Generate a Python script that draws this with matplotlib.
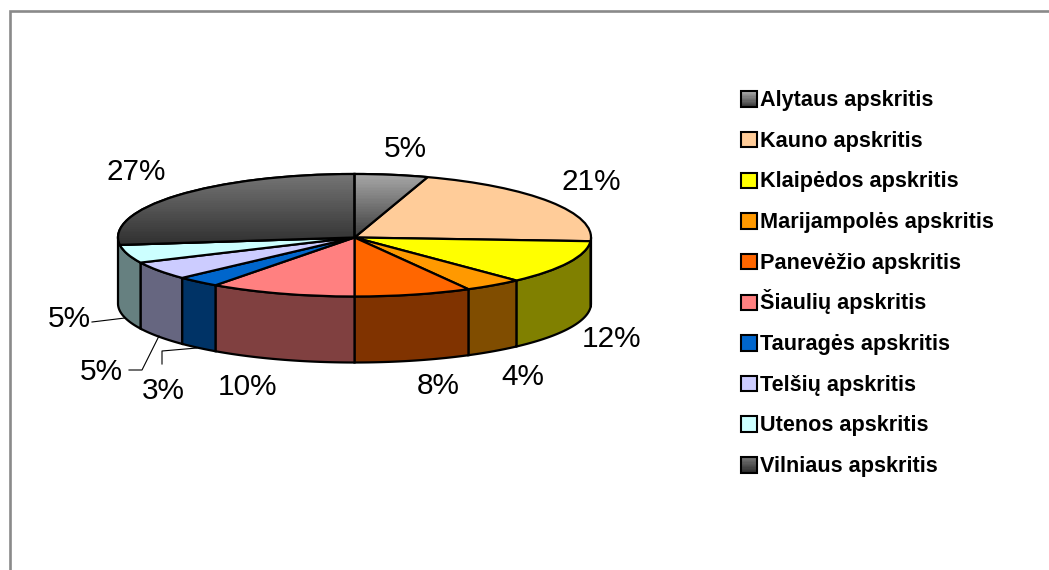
import numpy as np
import matplotlib
matplotlib.use("Agg")
import matplotlib.pyplot as plt
from matplotlib.patches import Rectangle, Wedge
from matplotlib.colors import LinearSegmentedColormap

W, H = 1049, 570

regions = ["Alytaus apskritis", "Kauno apskritis", "Klaipėdos apskritis",
           "Marijampolės apskritis", "Panevėžio apskritis", "Šiaulių apskritis",
           "Tauragės apskritis", "Telšių apskritis", "Utenos apskritis",
           "Vilniaus apskritis"]
shares = [5, 21, 12, 4, 8, 10, 3, 5, 5, 27]
top_colors = ["#808080", "#FFCC99", "#FFFF00", "#FF9900", "#FF6600",
              "#FF8080", "#0066CC", "#CCCCFF", "#CCFFFF", "#505050"]
wall_colors = ["#404040", "#806650", "#808000", "#804D00", "#803300",
               "#804040", "#003366", "#666680", "#668080", "#303030"]
# gradient ends (top, bottom) of the two grey slices
gradients = {0: ("#A6A6A6", "#3E3E3E"), 9: ("#747474", "#2E2E2E")}
label_text = ["5%", "21%", "12%", "4%", "8%", "10%", "3%", "5%", "5%", "27%"]

plt.rcParams["font.family"] = ["Liberation Sans", "DejaVu Sans"]


def px(x, y):
    return x / W, 1 - y / H


fig = plt.figure(figsize=(W / 100, H / 100), dpi=100)

# border, only top and left like the source
fig.add_artist(plt.Line2D([px(9.5, 0)[0], px(9.5, 0)[0], 1], [0, px(0, 11.3)[1], px(0, 11.3)[1]],
                          color="#8A8A8A", lw=1.9, solid_joinstyle="miter"))

# back half of the disc is a bit taller than the front, the y scale handles that
cx, cy = 354.5, 237.5
rx, ry_back, ry_front = 236.5, 63.5, 59.0
depth = 66.0 / ry_front
x_lim = 1.45
y_top, y_bot = 1.3, -2.6
edge_lw = 1.6
ax = fig.add_axes([px(cx - x_lim * rx, 0)[0], px(0, cy - y_bot * ry_front)[1],
                   2 * x_lim * rx / W, (y_top * ry_back - y_bot * ry_front) / H])


def fwd(y):
    y = np.asarray(y, dtype=float)
    return np.where(y > 0, y * ry_back, y * ry_front)


def inv(v):
    v = np.asarray(v, dtype=float)
    return np.where(v > 0, v / ry_back, v / ry_front)


wedges, _ = ax.pie(shares, colors=top_colors, startangle=90, counterclock=False, radius=1,
                   wedgeprops={"edgecolor": "black", "linewidth": edge_lw, "zorder": 5})
ax.set_aspect("auto")
ax.set_yscale("function", functions=(fwd, inv))
ax.set_xlim(-x_lim, x_lim)
ax.set_ylim(y_bot, y_top)
ax.axis("off")

# side walls: the last visible one (Utenos) runs out to the left edge of the disc
edges = np.cumsum([0] + shares) / sum(shares) * 360
for i in range(len(shares) - 1):
    a0 = max(edges[i], 90)
    a1 = edges[i + 1] if i < len(shares) - 2 else 270
    if a1 <= a0:
        continue
    t = np.radians(np.linspace(a0, a1, 60))
    xs = np.sin(t)
    ys = np.cos(t)
    ax.fill(np.r_[xs, xs[::-1]], np.r_[ys, ys[::-1] - depth], fc=wall_colors[i],
            ec="black", lw=edge_lw, zorder=4)

# gradient on the grey slices
for i, (c0, c1) in gradients.items():
    cmap = LinearSegmentedColormap.from_list("g", [c1, c0])
    yy = np.linspace(-0.15 if i == 9 else 0, 1, 41)
    zz = np.linspace(0, 1, 40)[None, :].T
    mesh = ax.pcolormesh([-1.1, 1.1], yy, zz, cmap=cmap, zorder=5.5, shading="flat")
    mesh.set_clip_path(wedges[i])
    ax.add_patch(Wedge(wedges[i].center, wedges[i].r, wedges[i].theta1, wedges[i].theta2,
                       fc="none", ec="black", lw=edge_lw, zorder=6))

# percentage labels
label_pos = [(405, 149), (591, 182), (611, 339), (523, 377), (438, 386),
             (247, 387), (163, 391), (101, 372), (69, 319), (136, 172)]
for s, (x, y) in zip(label_text, label_pos):
    fig.text(*px(x, y), s, fontsize=21.4, ha="center", va="center", color="black")

# leader lines of the three small slices
leaders = [[(92, 322), (125, 318)],
           [(129, 370), (142, 370), (159, 336)],
           [(162, 364), (162, 351), (197, 348)]]
for line in leaders:
    pts = [px(*p) for p in line]
    fig.add_artist(plt.Line2D([p[0] for p in pts], [p[1] for p in pts], color="black", lw=0.8))

# legend, drawn by hand so the row pitch stays even with the Š row
sw = 15.5
for i, name in enumerate(regions):
    yc = 99 + i * 40.65
    x0, y0 = px(741, yc + sw / 2)
    w, h = sw / W, sw / H
    if i in gradients:
        cmap = LinearSegmentedColormap.from_list("g", [gradients[i][1], gradients[i][0]])
        for k in range(12):
            fig.add_artist(Rectangle((x0, y0 + h * k / 12), w, h / 12 + 0.0005, fc=cmap(k / 11),
                                     ec="none", transform=fig.transFigure))
        fig.add_artist(Rectangle((x0, y0), w, h, fc="none", ec="black", lw=1.5,
                                 transform=fig.transFigure))
    else:
        fig.add_artist(Rectangle((x0, y0), w, h, fc=top_colors[i], ec="black", lw=1.5,
                                 transform=fig.transFigure))
    fig.text(*px(760, yc + 7), name, fontsize=15.6, fontweight="bold", va="baseline", color="black")

fig.savefig("out.png", dpi=100)
